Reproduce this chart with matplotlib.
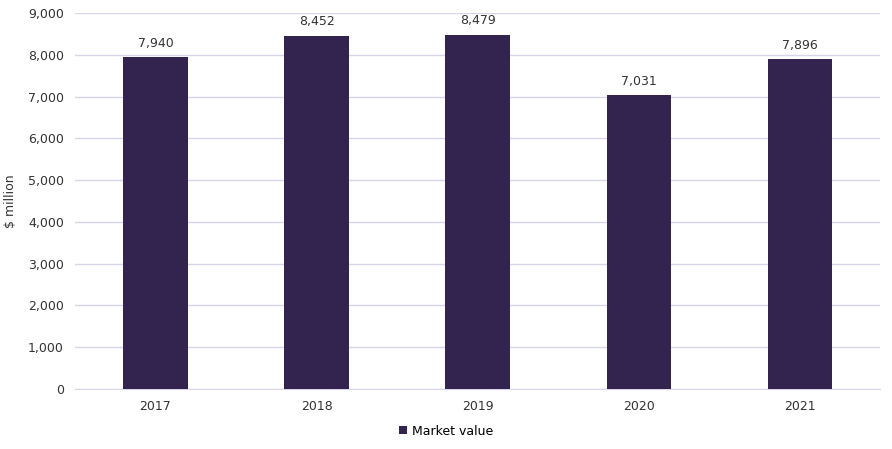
import matplotlib
matplotlib.use("Agg")
import matplotlib.pyplot as plt

years = ["2017", "2018", "2019", "2020", "2021"]
values = [7940, 8452, 8479, 7031, 7896]

fig = plt.figure(figsize=(8.92, 4.49), dpi=100)
ax = fig.add_axes([0.084, 0.1336, 0.903, 0.8374])
x = range(len(years))
bars = ax.bar(x, values, width=0.4, color="#33234f", label="Market value", zorder=3)
for xi, v in zip(x, values):
    ax.text(xi, v + 180, f"{v:,}", ha="center", va="bottom", fontsize=9, color="#333333")
ax.set_xlim(-0.5, len(years) - 0.5)
ax.set_ylim(0, 9000)
ax.set_yticks(range(0, 9001, 1000))
ax.set_yticklabels([f"{t:,}" for t in range(0, 9001, 1000)], fontsize=9, color="#333333")
ax.set_xticks(list(x))
ax.set_xticklabels(years, fontsize=9, color="#333333")
ax.grid(axis="y", color="#d9d4e8", linewidth=1, zorder=0)
for s in ["top", "right", "left"]:
    ax.spines[s].set_visible(False)
ax.spines["bottom"].set_color("#d9d4e8")
ax.tick_params(length=0, pad=8)
ax.set_ylabel("$ million", fontsize=9, color="#333333", labelpad=8)
fig.legend(handles=[bars], loc="lower center", bbox_to_anchor=(0.5, 0.0), frameon=False,
           fontsize=9, handlelength=0.6, handleheight=0.6, handletextpad=0.4)
fig.savefig("out.png", dpi=100)
